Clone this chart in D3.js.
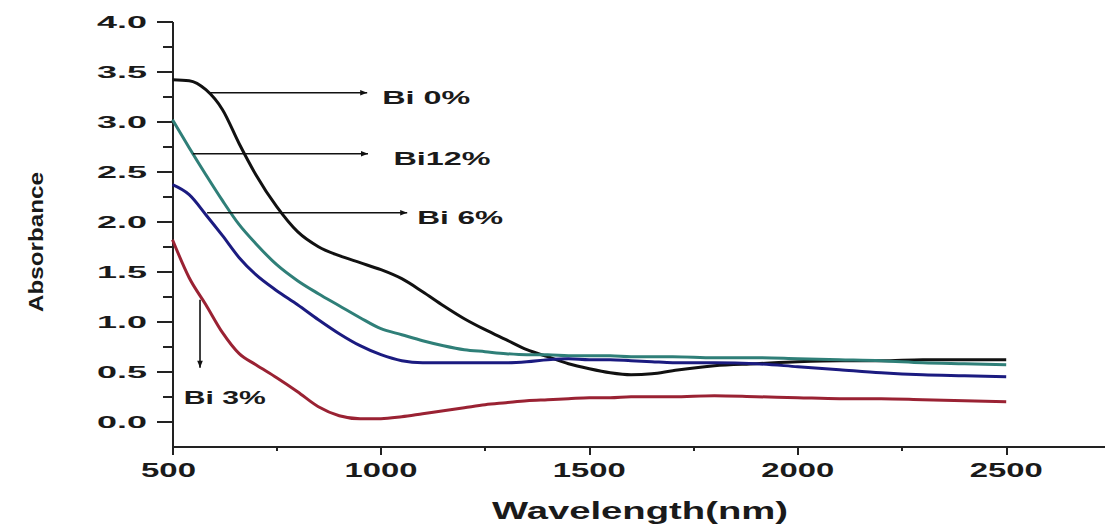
<!DOCTYPE html>
<html>
  <head>
    <title>Absorbance</title>
    <script src="https://d3js.org/d3.v7.min.js"></script>
    <style>
      body { margin: 0; background: white; }
      text {
        font-family: Arial, "Liberation Sans", sans-serif;
        font-weight: bold;
        fill: #1a1a1a;
      }
      .axis path, .axis line {
        fill: none;
        stroke: #222;
        stroke-width: 2px;
        shape-rendering: crispEdges;
      }
    </style>
  </head>
  <body>
    <svg id="main" width="1105" height="524"></svg>
    <script>

      // wavelength (nm) shared by every curve
      var wavelength = [500, 540, 580, 620, 660, 700, 750, 800, 850, 900, 950, 1000, 1050, 1100,
                        1150, 1200, 1250, 1300, 1350, 1400, 1450, 1500, 1550, 1600, 1650, 1700,
                        1800, 1900, 2000, 2100, 2200, 2300, 2400, 2500];

      var bi0  = [3.42, 3.41, 3.32, 3.12, 2.78, 2.47, 2.15, 1.90, 1.75, 1.66, 1.59, 1.52, 1.43, 1.30,
                  1.16, 1.03, 0.92, 0.82, 0.72, 0.65, 0.58, 0.53, 0.49, 0.47, 0.48, 0.51,
                  0.56, 0.58, 0.60, 0.61, 0.61, 0.62, 0.62, 0.62];
      var bi12 = [3.02, 2.74, 2.47, 2.21, 1.97, 1.78, 1.57, 1.41, 1.28, 1.16, 1.04, 0.93, 0.87, 0.81,
                  0.76, 0.72, 0.70, 0.68, 0.67, 0.67, 0.66, 0.66, 0.66, 0.65, 0.65, 0.65,
                  0.64, 0.64, 0.63, 0.62, 0.61, 0.59, 0.58, 0.57];
      var bi6  = [2.37, 2.27, 2.07, 1.86, 1.64, 1.47, 1.31, 1.17, 1.02, 0.88, 0.76, 0.67, 0.61, 0.59,
                  0.59, 0.59, 0.59, 0.59, 0.60, 0.62, 0.63, 0.62, 0.62, 0.61, 0.60, 0.59,
                  0.59, 0.58, 0.55, 0.52, 0.49, 0.47, 0.46, 0.45];
      var bi3  = [1.82, 1.44, 1.17, 0.89, 0.68, 0.57, 0.44, 0.30, 0.15, 0.06, 0.03, 0.03, 0.05, 0.08,
                  0.11, 0.14, 0.17, 0.19, 0.21, 0.22, 0.23, 0.24, 0.24, 0.25, 0.25, 0.25,
                  0.26, 0.25, 0.24, 0.23, 0.23, 0.22, 0.21, 0.20];

      var seriesNames  = ['Bi 0%', 'Bi12%', 'Bi 6%', 'Bi 3%'];
      var seriesValues = [bi0, bi12, bi6, bi3];
      var seriesColors = ['#111111', '#2f7f78', '#1b1b80', '#9a2233'];

      var xTicks = [500, 1000, 1500, 2000, 2500];
      var xMinor = [750, 1250, 1750, 2250];
      var yTicks = [0, 0.5, 1, 1.5, 2, 2.5, 3, 3.5, 4];
      var yMinor = [0.25, 0.75, 1.25, 1.75, 2.25, 2.75, 3.25, 3.75];

      // label annotations: arrow from (w1, a1) to (w2, a2), text at (tw, ta)
      var noteLabels = ['Bi 0%', 'Bi12%', 'Bi 6%', 'Bi 3%'];
      var noteFrom   = [[590, 3.29], [549, 2.68], [583, 2.09], [566, 1.22]];
      var noteTo     = [[967, 3.29], [969, 2.68], [1063, 2.09], [566, 0.54]];
      var noteText   = [[1003, 3.175], [1030, 2.565], [1087, 1.975], [527, 0.18]];
      var noteWidth  = [88, 97, 86, 82];

      var svg = d3.select('#main');

      var x = d3.scaleLinear().domain([500, 2737]).range([172.5, 1105]);
      var y = d3.scaleLinear().domain([-0.25, 4.0]).range([446.7, 21.7]);

      // x axis
      var xAxis = svg.append('g')
        .attr('class', 'axis')
        .attr('transform', 'translate(0,' + y(-0.25) + ')')
        .call(d3.axisBottom(x).tickValues(xTicks).tickSize(8).tickSizeOuter(0).tickFormat(''));
      xAxis.selectAll('.minor')
        .data(xMinor).enter()
        .append('line')
        .attr('x1', function(d) { return x(d); })
        .attr('x2', function(d) { return x(d); })
        .attr('y1', 0).attr('y2', 4);
      svg.append('g').selectAll('text')
        .data(xTicks).enter()
        .append('text')
        .attr('x', function(d) { return x(d) - (d == 500 ? 4 : 0); })
        .attr('y', 477)
        .attr('text-anchor', 'middle')
        .attr('font-size', 20)
        .attr('textLength', function(d) { return String(d).length == 3 ? 55 : 73; })
        .attr('lengthAdjust', 'spacingAndGlyphs')
        .text(function(d) { return d; });

      // y axis
      var yAxis = svg.append('g')
        .attr('class', 'axis')
        .attr('transform', 'translate(' + x(500) + ',0)')
        .call(d3.axisLeft(y).tickValues(yTicks).tickSize(16).tickSizeOuter(0).tickFormat(''));
      yAxis.selectAll('.minor')
        .data(yMinor).enter()
        .append('line')
        .attr('y1', function(d) { return y(d); })
        .attr('y2', function(d) { return y(d); })
        .attr('x1', 0).attr('x2', -10);
      svg.append('g').selectAll('text')
        .data(yTicks).enter()
        .append('text')
        .attr('x', 147)
        .attr('y', function(d) { return y(d) + 6; })
        .attr('text-anchor', 'end')
        .attr('font-size', 17)
        .attr('textLength', 50)
        .attr('lengthAdjust', 'spacingAndGlyphs')
        .text(function(d) { return d3.format('.1f')(d); });

      // axis titles
      svg.append('text')
        .attr('x', 640).attr('y', 519)
        .attr('text-anchor', 'middle')
        .attr('font-size', 24)
        .attr('textLength', 296)
        .attr('lengthAdjust', 'spacingAndGlyphs')
        .text('Wavelength(nm)');
      svg.append('text')
        .attr('transform', 'translate(43,242) rotate(-90)')
        .attr('text-anchor', 'middle')
        .attr('font-size', 21)
        .attr('textLength', 140)
        .attr('lengthAdjust', 'spacingAndGlyphs')
        .text('Absorbance');

      // curves
      var line = d3.line()
        .x(function(d, i) { return x(wavelength[i]); })
        .y(function(d) { return y(d); })
        .curve(d3.curveMonotoneX);

      svg.append('g').selectAll('path')
        .data(seriesValues).enter()
        .append('path')
        .attr('d', line)
        .attr('fill', 'none')
        .attr('stroke', function(d, i) { return seriesColors[i]; })
        .attr('stroke-width', 3)
        .attr('stroke-linejoin', 'round');

      // arrows + labels
      svg.append('defs').append('marker')
        .attr('id', 'head')
        .attr('viewBox', '0 0 10 10')
        .attr('refX', 10).attr('refY', 5)
        .attr('markerWidth', 10).attr('markerHeight', 7)
        .attr('markerUnits', 'userSpaceOnUse')
        .attr('orient', 'auto')
        .append('path')
        .attr('d', 'M0,1 L10,5 L0,9 Z')
        .attr('fill', '#111');

      var notes = svg.append('g');
      notes.selectAll('line')
        .data(noteLabels).enter()
        .append('line')
        .attr('x1', function(d, i) { return x(noteFrom[i][0]); })
        .attr('y1', function(d, i) { return y(noteFrom[i][1]); })
        .attr('x2', function(d, i) { return x(noteTo[i][0]); })
        .attr('y2', function(d, i) { return y(noteTo[i][1]); })
        .attr('stroke', '#111')
        .attr('stroke-width', 1.6)
        .attr('marker-end', 'url(#head)');
      notes.selectAll('text')
        .data(noteLabels).enter()
        .append('text')
        .attr('x', function(d, i) { return x(noteText[i][0]); })
        .attr('y', function(d, i) { return y(noteText[i][1]); })
        .attr('font-size', 19)
        .attr('fill', '#222')
        .attr('textLength', function(d, i) { return noteWidth[i]; })
        .attr('lengthAdjust', 'spacingAndGlyphs')
        .text(function(d) { return d; });

    </script>
  </body>
</html>
